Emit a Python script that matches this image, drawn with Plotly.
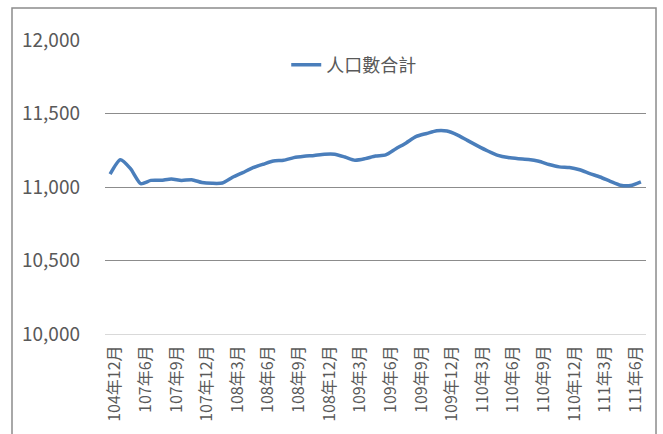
import plotly.graph_objects as go

categories = ["104年12月", "105年12月", "106年12月"] + [
    f"{y}年{m}月" for y in range(107, 112) for m in range(1, 13)
    if not (y == 107 and m < 6) and not (y == 111 and m > 7)
]

population = [
    11087, 11185, 11125, 11023, 11045, 11046, 11055, 11044, 11050, 11030,
    11025, 11027, 11066, 11098, 11131, 11155, 11177, 11182, 11200, 11209,
    11215, 11223, 11223, 11204, 11182, 11193, 11211, 11218, 11260, 11300,
    11344, 11364, 11383, 11381, 11355, 11317, 11280, 11245, 11215, 11200,
    11192, 11187, 11175, 11153, 11137, 11132, 11117, 11091, 11068, 11039,
    11012, 11010, 11035,
]

series_name = "人口數合計"
y_ticks = [10000, 10500, 11000, 11500, 12000]
y_ticktext = ["10,000", "10,500", "11,000", "11,500", "12,000"]

FONT = "Noto Sans CJK TC, Noto Sans, sans-serif"
TXT = "#595959"

fig = go.Figure()
fig.add_trace(go.Scatter(
    x=categories, y=population, name=series_name, mode="lines",
    line=dict(color="#4a7ebb", width=3.5, shape="spline", smoothing=0.6),
    showlegend=True,
))

fig.update_layout(
    width=663, height=434,
    margin=dict(l=105, r=17, t=40, b=100),
    paper_bgcolor="white", plot_bgcolor="white",
    font=dict(family=FONT, color=TXT),
    showlegend=True,
    legend=dict(x=0.335, y=0.915, xanchor="left", yanchor="middle",
                font=dict(size=18, color=TXT, family=FONT),
                bgcolor="rgba(0,0,0,0)", itemwidth=30),
    xaxis=dict(
        type="category", categoryorder="array", categoryarray=categories,
        tickmode="array", tickvals=categories[::3], ticktext=categories[::3],
        tickangle=-90, tickfont=dict(size=16, color=TXT, family=FONT),
        showgrid=False, showline=True, linecolor="#d9d9d9", linewidth=1,
        ticks="", ticklabelstandoff=4, ticklabelshift=5,
        range=[-0.5, len(categories) - 0.5],
    ),
    yaxis=dict(
        range=[10000, 12000], tickmode="array", tickvals=y_ticks, ticktext=y_ticktext,
        tickfont=dict(size=19, color=TXT, family=FONT),
        showgrid=True, gridcolor="#8c8c8c", gridwidth=1,
        showline=False, zeroline=False, ticks="", ticklabelstandoff=24,
    ),
    shapes=[dict(type="rect", xref="paper", yref="paper",
                 x0=-0.1719, x1=1.0185, y0=-0.4, y1=1.1088,
                 line=dict(color="#8c8c8c", width=1.5), layer="below")],
)

fig.write_html("out.html", config={"displayModeBar": False},
               post_script="document.body.style.margin='0';")
